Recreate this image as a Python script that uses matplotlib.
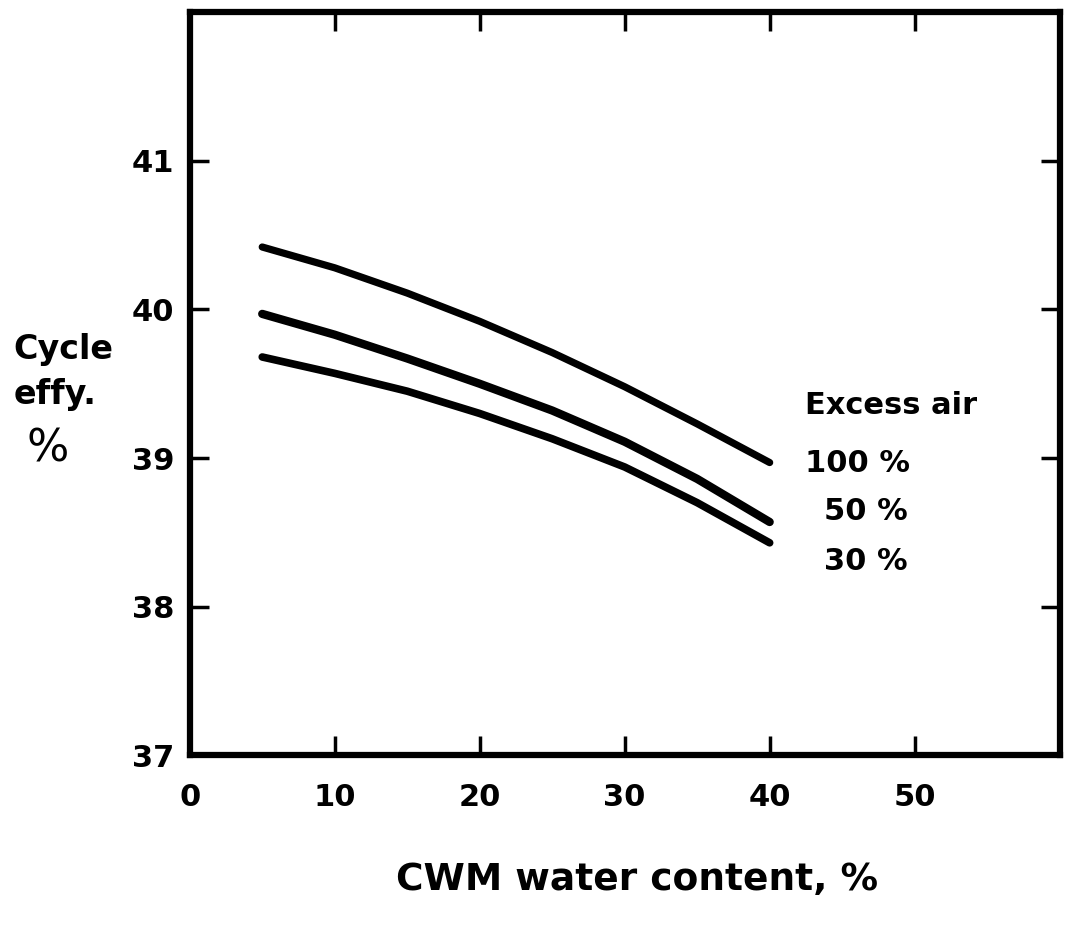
import matplotlib
matplotlib.use("Agg")
import matplotlib.pyplot as plt

# Data
water_content = [5, 10, 15, 20, 25, 30, 35, 40]
eff_100 = [40.42, 40.28, 40.11, 39.92, 39.71, 39.48, 39.23, 38.97]
eff_50 = [39.97, 39.83, 39.67, 39.50, 39.32, 39.11, 38.86, 38.57]
eff_30 = [39.68, 39.57, 39.45, 39.30, 39.13, 38.94, 38.70, 38.43]
x_ticks = [0, 10, 20, 30, 40, 50]
y_ticks = [37, 38, 39, 40, 41]
legend_labels = ["100 %", "50 %", "30 %"]

plt.rcParams['font.family'] = ['DejaVu Sans']
plt.rcParams['font.weight'] = 'bold'

fig = plt.figure(figsize=(10.66, 9.36), dpi=100)
ax = fig.add_axes([0.178, 0.193, 0.816, 0.794])

for ys, lw in ((eff_100, 5.2), (eff_50, 6.0), (eff_30, 5.5)):
    ax.plot(water_content, ys, color='black', lw=lw,
            solid_capstyle='round', solid_joinstyle='round')

ax.set_xlim(0, 60)
ax.set_ylim(37, 42)
ax.set_xticks(x_ticks)
ax.set_yticks(y_ticks)
ax.set_xticklabels([str(v) for v in x_ticks])
ax.set_yticklabels([str(v) for v in y_ticks])

for s in ax.spines.values():
    s.set_linewidth(4.5)

ax.tick_params(axis='both', direction='in', length=14, width=2.5,
               top=True, right=True, labelsize=22, colors='black')
ax.tick_params(axis='x', pad=20)
ax.tick_params(axis='y', pad=11)

# y label block
fig.text(0.013, 0.627, "Cycle", fontsize=24, fontweight='bold', ha='left', va='center')
fig.text(0.013, 0.578, "effy.", fontsize=24, fontweight='bold', ha='left', va='center')
fig.text(0.045, 0.52, "%", fontsize=32, fontweight='normal', ha='center', va='center')

# x label
fig.text(0.598, 0.06, "CWM water content, %", fontsize=27, fontweight='bold',
         ha='center', va='center')

# annotation block
fig.text(0.755, 0.567, "Excess air", fontsize=22, fontweight='bold', ha='left', va='center')
fig.text(0.755, 0.505, legend_labels[0], fontsize=22, fontweight='bold', ha='left', va='center')
fig.text(0.773, 0.453, legend_labels[1], fontsize=22, fontweight='bold', ha='left', va='center')
fig.text(0.773, 0.400, legend_labels[2], fontsize=22, fontweight='bold', ha='left', va='center')

fig.savefig("out.png", dpi=100)
